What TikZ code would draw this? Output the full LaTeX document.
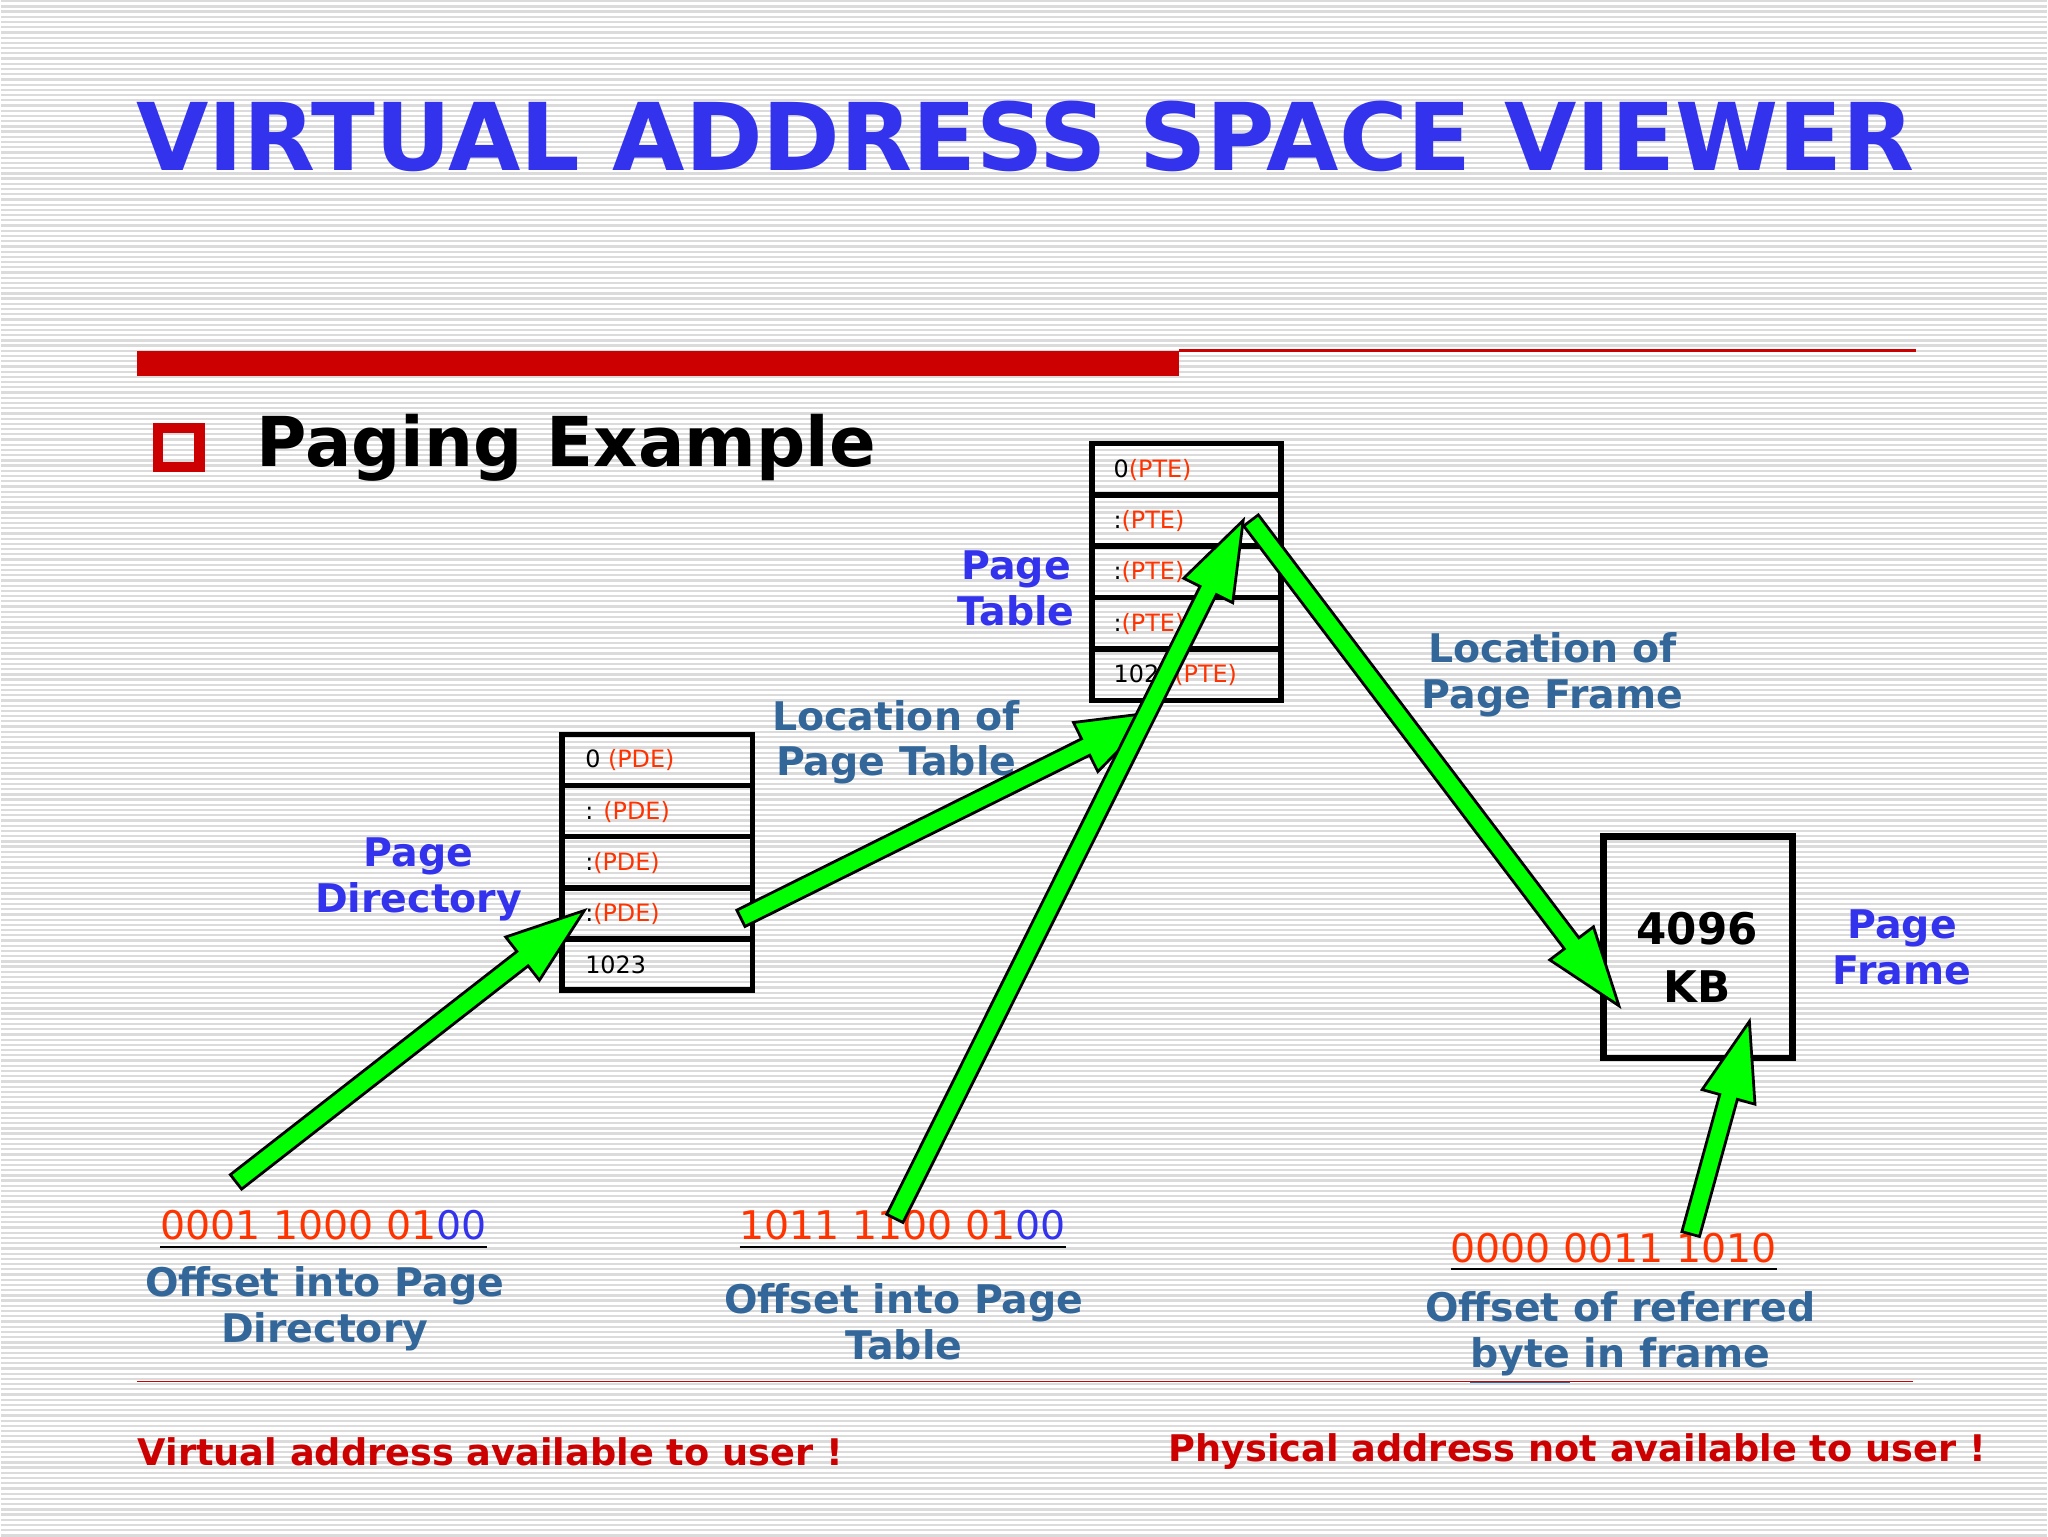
\documentclass[tikz,border=0pt]{standalone}
\usepackage{fontspec}
\setmainfont{DejaVu Sans}
\usetikzlibrary{calc}
\definecolor{tblue}{HTML}{3333EE}
\definecolor{sblue}{HTML}{336699}
\definecolor{dred}{HTML}{CC0000}
\definecolor{ored}{HTML}{FF3300}
\definecolor{agreen}{HTML}{00FF00}
\newcommand{\fatarrow}[2]{%
 \filldraw[fill=agreen,draw=black,line width=0.6pt]
 ($(#1)!0.07cm!90:(#2)$) -- ($($(#2)!0.6cm!(#1)$)!0.07cm!90:(#2)$) --
 ($($(#2)!0.6cm!(#1)$)!0.21cm!90:(#2)$) -- (#2) --
 ($($(#2)!0.6cm!(#1)$)!0.21cm!-90:(#2)$) -- ($($(#2)!0.6cm!(#1)$)!0.07cm!-90:(#2)$) --
 ($(#1)!0.07cm!-90:(#2)$) -- cycle;}
\tikzset{
 lbl/.style={font=\bfseries\fontsize{8.6}{10}\selectfont,align=center,inner sep=0},
 ent/.style={font=\fontsize{5.2}{6}\selectfont,anchor=west,inner sep=0},
 cell/.style={draw,line width=1.2pt},
}
\newcommand{\R}[1]{\textcolor{ored}{#1}}
\begin{document}
\begin{tikzpicture}[x=0.01cm,y=-0.01cm]
\fill[white] (0,0) rectangle (1568,1176);
\foreach \i in {0,4,...,1176} \draw[black!14,line width=0.5pt] (0,\i) -- (1568,\i);
\useasboundingbox (0,0) rectangle (1568,1176);
% title
\node[anchor=west,inner sep=0,text=tblue] (title) at (103,104) {\resizebox{13.62cm}{!}{\bfseries VIRTUAL ADDRESS SPACE VIEWER}};
\fill[dred] (104,268) rectangle (903,287);
\draw[dred,line width=0.6pt] (903,268) -- (1468,268);
\draw[dred,line width=2.2pt] (120,327) rectangle (152,357);
\node[anchor=west,inner sep=0,font=\bfseries\fontsize{15}{18}\selectfont] (pe) at (195,342) {Paging Example};
% page directory
\foreach \k/\t in {0/{0 \R{(PDE)}},1/{: \R{(PDE)}},2/{:\R{(PDE)}},3/{:\R{(PDE)}},4/{1023}} {
 \draw[cell] (430,562+39.2*\k) rectangle (576,562+39.2*\k+39.2);
 \node[ent] (pd\k) at (447,582+39.2*\k) {\t};
}
% page table
\foreach \k/\t in {0/{0\R{(PTE)}},1/{:\R{(PTE)}},2/{:\R{(PTE)}},3/{:\R{(PTE)}},4/{1023\R{(PTE)}}} {
 \draw[cell] (836,339+39.4*\k) rectangle (981,339+39.4*\k+39.4);
 \node[ent] (pt\k) at (852,359+39.4*\k) {\t};
}
% frame
\draw[line width=1.5pt] (1228,640) rectangle (1373,810);
\node[lbl,font=\bfseries\fontsize{9.5}{12.5}\selectfont] (fr) at (1300,733) {4096\\KB};
% labels
\node[lbl,text=tblue] (lpd) at (320,673) {Page\\Directory};
\node[lbl,text=tblue] (lpt) at (778,450) {Page\\Table};
\node[lbl,text=tblue] (lpf) at (1457,725) {Page\\Frame};
\node[lbl,text=sblue] (llt) at (686,568) {Location of\\Page Table};
\node[lbl,text=sblue] (llf) at (1189,516) {Location of\\Page Frame};
\node[lbl,font=\fontsize{8.6}{10}\selectfont] (a1) at (247,942) {\underline{\R{0001 1000 01}\textcolor{tblue}{00}}};
\node[lbl,text=sblue] (o1) at (248,1002) {Offset into Page\\Directory};
\node[lbl,font=\fontsize{8.6}{10}\selectfont] (a2) at (691,942) {\underline{\R{1011 1100 01}\textcolor{tblue}{00}}};
\node[lbl,text=sblue] (o2) at (692,1012) {Offset into Page\\Table};
\node[lbl,font=\fontsize{8.6}{10}\selectfont] (a3) at (1236,959) {\underline{\R{0000 0011 1010}}};
\node[lbl,text=sblue] (o3) at (1241,1025) {Offset of referred\\\underline{byte} in frame};
\draw[dred,line width=0.4pt] (104,1058) -- (1465,1058);
\node[anchor=west,inner sep=0,text=dred,font=\bfseries\fontsize{8}{10}\selectfont] (v) at (104,1112) {Virtual address available to user !};
\node[anchor=east,inner sep=0,text=dred,font=\bfseries\fontsize{8}{10}\selectfont] (p) at (1522,1112) {Physical address not available to user !};
% arrows
\coordinate (s1) at (180,905); \coordinate (e1) at (447,697);
\coordinate (s2) at (567,703); \coordinate (e2) at (885,545);
\coordinate (s3) at (685,933); \coordinate (e3) at (952,398);
\coordinate (s4) at (958,398); \coordinate (e4) at (1240,770);
\coordinate (s5) at (1295,945); \coordinate (e5) at (1340,782);
\fatarrow{s1}{e1}\fatarrow{s2}{e2}\fatarrow{s4}{e4}\fatarrow{s3}{e3}\fatarrow{s5}{e5}
\end{tikzpicture}
\end{document}
